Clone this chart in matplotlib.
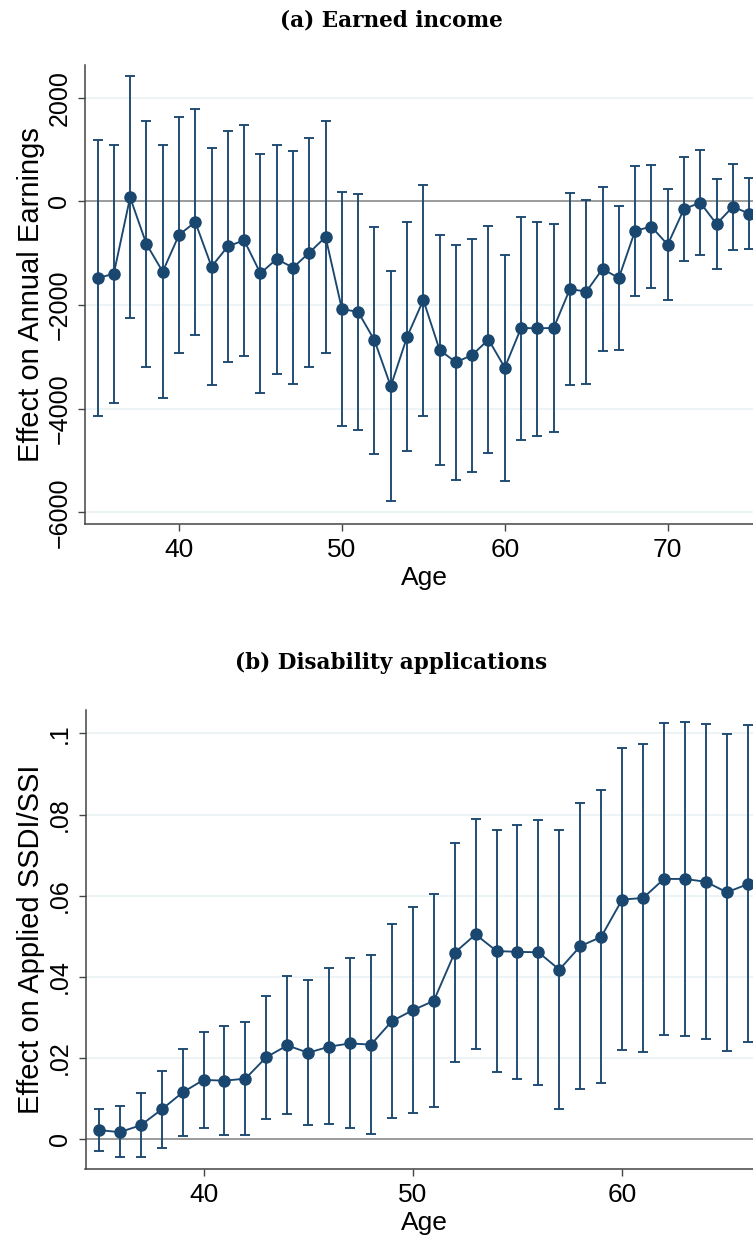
import matplotlib
matplotlib.use("Agg")
import matplotlib.pyplot as plt
import numpy as np

# panel (a): earned income
ages_a = list(range(35, 76))
earn_coef = [-1485, -1395, 77, -823, -1357, -649, -399, -1260, -868, -752,
             -1389, -1112, -1280, -990, -688, -2077, -2135, -2681, -3569, -2617,
             -1903, -2868, -3106, -2964, -2668, -3209, -2443, -2450, -2443, -1691,
             -1743, -1305, -1479, -566, -489, -836, -148, -26, -437, -103,
             -238]
earn_lo = [-4147, -3884, -2257, -3189, -3800, -2932, -2585, -3543, -3093, -2977,
           -3691, -3324, -3530, -3196, -2919, -4340, -4405, -4868, -5787, -4823,
           -4141, -5093, -5382, -5215, -4848, -5395, -4597, -4533, -4450, -3549,
           -3517, -2894, -2874, -1820, -1678, -1910, -1151, -1042, -1312, -932,
           -920]
earn_hi = [1183, 1093, 2411, 1556, 1093, 1627, 1788, 1029, 1357, 1472,
           913, 1093, 977, 1215, 1550, 186, 148, -495, -1337, -405,
           321, -643, -836, -727, -482, -1029, -296, -392, -437, 167,
           26, 283, -84, 688, 694, 244, 862, 997, 437, 714,
           450]
earn_ticks = [-6000, -4000, -2000, 0, 2000]

# panel (b): disability applications
ages_b = list(range(35, 67))
ssdi_coef = [0.0021, 0.0016, 0.0033, 0.0072, 0.0114, 0.0145, 0.0143, 0.0148,
             0.0201, 0.0230, 0.0212, 0.0227, 0.0235, 0.0232, 0.0290, 0.0317,
             0.0340, 0.0459, 0.0504, 0.0463, 0.0461, 0.0460, 0.0417, 0.0475,
             0.0498, 0.0590, 0.0594, 0.0641, 0.0641, 0.0634, 0.0608, 0.0628]
ssdi_lo = [-0.0030, -0.0046, -0.0046, -0.0022, 0.0007, 0.0027, 0.0009, 0.0008,
           0.0049, 0.0061, 0.0033, 0.0035, 0.0025, 0.0011, 0.0050, 0.0063,
           0.0077, 0.0189, 0.0221, 0.0165, 0.0147, 0.0132, 0.0074, 0.0123,
           0.0137, 0.0219, 0.0215, 0.0255, 0.0253, 0.0247, 0.0217, 0.0238]
ssdi_hi = [0.0074, 0.0081, 0.0112, 0.0168, 0.0221, 0.0263, 0.0277, 0.0287,
           0.0353, 0.0401, 0.0391, 0.0420, 0.0447, 0.0453, 0.0529, 0.0571,
           0.0604, 0.0729, 0.0789, 0.0761, 0.0775, 0.0787, 0.0762, 0.0829,
           0.0860, 0.0963, 0.0975, 0.1026, 0.1028, 0.1023, 0.0999, 0.1021]
ssdi_ticks = [0, 0.02, 0.04, 0.06, 0.08, 0.1]
ssdi_ticklabels = ["0", ".02", ".04", ".06", ".08", ".1"]

plt.rcParams["font.family"] = ["Liberation Sans", "DejaVu Sans"]
navy = "#1a476f"

fig = plt.figure(figsize=(7.53, 12.38), dpi=100)


def draw_panel(ax, ages, coef, lo, hi):
    coef = np.array(coef)
    yerr = [coef - np.array(lo), np.array(hi) - coef]
    ax.axhline(0, color="#8c8c8c", lw=1.2, zorder=1)
    ax.errorbar(ages, coef, yerr=yerr, fmt="none", ecolor=navy, elinewidth=1.35,
                capsize=3.3, capthick=1.35, zorder=2)
    ax.plot(ages, coef, "-o", color=navy, lw=1.35, markersize=8, zorder=3)
    ax.grid(axis="y", color="#eaf2f3", lw=1.2, zorder=0)
    ax.set_axisbelow(True)
    for side in ["top", "right"]:
        ax.spines[side].set_visible(False)
    for side in ["left", "bottom"]:
        ax.spines[side].set_color("#444444")
        ax.spines[side].set_linewidth(1.1)
    ax.tick_params(direction="out", length=5, width=1.0, color="#444444", pad=5)
    ax.tick_params(axis="x", labelsize=19)
    ax.tick_params(axis="y", labelsize=18)
    for lab in ax.get_yticklabels():
        lab.set_rotation(90)
        lab.set_va("center")
    ax.set_xlabel("Age", fontsize=19, labelpad=3)


# (a) earned income
ax1 = fig.add_axes([85.3 / 753, 1 - 524.3 / 1238, (763 - 85.3) / 753, (524.3 - 65) / 1238])
ax1.set_xlim(34.25, 75.85)
ax1.set_ylim(-6232, 2631)
ax1.set_yticks(earn_ticks)
ax1.set_xticks([40, 50, 60, 70])
draw_panel(ax1, ages_a, earn_coef, earn_lo, earn_hi)
ax1.set_ylabel("Effect on Annual Earnings", fontsize=21, labelpad=2)

# (b) disability applications
ax2 = fig.add_axes([85.5 / 753, 1 - 1169 / 1238, (763 - 85.5) / 753, (1169 - 710) / 1238])
ax2.set_xlim(34.36, 66.73)
ax2.set_ylim(-0.0075, 0.1058)
ax2.set_yticks(ssdi_ticks)
ax2.set_yticklabels(ssdi_ticklabels)
ax2.set_xticks([40, 50, 60])
draw_panel(ax2, ages_b, ssdi_coef, ssdi_lo, ssdi_hi)
ax2.set_ylabel("Effect on Applied SSDI/SSI", fontsize=21, labelpad=2)

# panel titles
fig.text(391 / 753, 1 - 20 / 1238, "(a) Earned income", family="DejaVu Serif",
         weight="bold", fontsize=15.5, ha="center", va="center")
fig.text(391 / 753, 1 - 663 / 1238, "(b) Disability applications", family="DejaVu Serif",
         weight="bold", fontsize=15.5, ha="center", va="center")

fig.savefig("out.png", dpi=100)
